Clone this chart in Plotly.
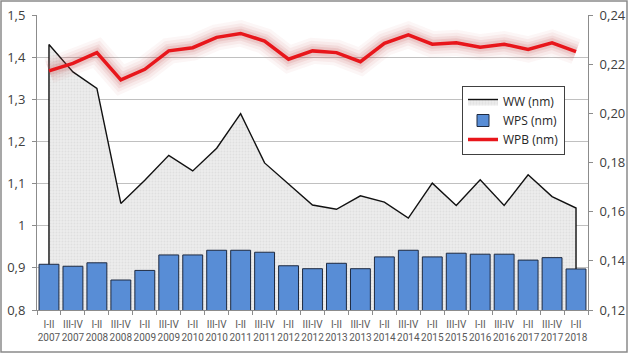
import plotly.graph_objects as go

periods = ["I-II", "III-IV"] * 11 + ["I-II"]
years = [str(2007 + i // 2) for i in range(23)]
categories = [f"{p}<br>{y}" for p, y in zip(periods, years)]

ww = [1.430, 1.365, 1.326, 1.053, 1.108, 1.167, 1.130, 1.184, 1.266, 1.149,
      1.099, 1.049, 1.039, 1.071, 1.056, 1.018, 1.101, 1.048, 1.109, 1.048,
      1.121, 1.069, 1.042]
wps = [0.1386, 0.1378, 0.1392, 0.1322, 0.1361, 0.1424, 0.1424, 0.1443, 0.1443, 0.1435,
       0.1380, 0.1368, 0.1390, 0.1368, 0.1416, 0.1443, 0.1416, 0.1431, 0.1427, 0.1427,
       0.1403, 0.1413, 0.1367]
wpb = [0.2173, 0.2203, 0.2247, 0.2136, 0.2179, 0.2254, 0.2267, 0.2309, 0.2325, 0.2294,
       0.2220, 0.2254, 0.2247, 0.2210, 0.2285, 0.2319, 0.2281, 0.2287, 0.2269, 0.2281,
       0.2260, 0.2287, 0.2251]

left_ticks = [0.8, 0.9, 1.0, 1.1, 1.2, 1.3, 1.4, 1.5]
left_labels = ["0,8", "0,9", "1", "1,1", "1,2", "1,3", "1,4", "1,5"]
right_ticks = [0.12, 0.14, 0.16, 0.18, 0.20, 0.22, 0.24]
right_labels = ["0,12", "0,14", "0,16", "0,18", "0,20", "0,22", "0,24"]

Y_MIN, Y_MAX = left_ticks[0], left_ticks[-1]
Y2_MIN, Y2_MAX = right_ticks[0], right_ticks[-1]

FONT = "Open Sans"
XFONT = "Roboto"
TXT = "#404040"
GRID = "#c0c0c0"
AXL = "#8c8c8c"

fig = go.Figure()

# WW area (left axis), closed down to the axis minimum at both ends
x_poly = [categories[0]] + categories + [categories[-1]]
y_poly = [Y_MIN] + ww + [Y_MIN]
fig.add_trace(go.Scatter(
    x=x_poly, y=y_poly, name="WW (nm)", mode="lines", fill="toself",
    fillcolor="#e8e8e8",
    fillpattern=dict(shape=".", fgcolor="#d2d2d2", bgcolor="#ececec", size=3, solidity=0.3),
    line=dict(color="#111111", width=1.4),
    yaxis="y",
))

# WPS bars (right axis)
fig.add_trace(go.Bar(
    x=categories, y=wps, name="WPS (nm)", yaxis="y2",
    marker=dict(color="#588DD6", line=dict(color="#1e2a40", width=1)),
))

# soft glow around WPB
for w, a in [(26, 0.05), (20, 0.07), (14, 0.10), (9, 0.14)]:
    fig.add_trace(go.Scatter(
        x=categories, y=wpb, mode="lines", yaxis="y2", showlegend=False,
        hoverinfo="skip", line=dict(color=f"rgba(200,80,80,{a})", width=w),
    ))

fig.add_trace(go.Scatter(
    x=categories, y=wpb, name="WPB (nm)", mode="lines", yaxis="y2",
    line=dict(color="#e8161b", width=3.5),
))

L, R, T, B = 37, 41, 15, 44
W, H = 629, 354
pw, ph = W - L - R, H - T - B

fig.update_layout(
    width=W, height=H,
    margin=dict(l=L, r=R, t=T, b=B, autoexpand=False),
    paper_bgcolor="white", plot_bgcolor="white",
    font=dict(family=FONT, color=TXT, size=12),
    bargap=0.17,
    showlegend=True,
    legend=dict(
        x=(462 - L) / pw, y=(H - B - 86) / ph, xanchor="left", yanchor="top",
        bgcolor="white", bordercolor="#404040", borderwidth=1,
        font=dict(family=FONT, size=12, color="#262626"),
        tracegroupgap=0, itemwidth=30,
    ),
    xaxis=dict(
        type="category", categoryorder="array", categoryarray=categories,
        range=[-0.5, len(categories) - 0.5], automargin=False,
        tickson="boundaries", ticks="outside", ticklen=4, tickcolor=AXL,
        showline=True, linecolor=AXL, linewidth=1, showgrid=False,
        tickfont=dict(family=XFONT, size=10, color="#595959"),
        tickangle=0, ticklabelstandoff=5,
    ),
    yaxis=dict(
        range=[Y_MIN, Y_MAX], tickvals=left_ticks, ticktext=left_labels,
        showgrid=True, gridcolor=GRID, gridwidth=1, zeroline=False,
        showline=True, linecolor=AXL, linewidth=1, automargin=False,
        ticks="outside", ticklen=4, tickcolor=AXL,
        tickfont=dict(family=FONT, size=13, color=TXT), ticklabelstandoff=4,
    ),
    yaxis2=dict(
        range=[Y2_MIN, Y2_MAX], tickvals=right_ticks, ticktext=right_labels,
        overlaying="y", side="right", showgrid=False, zeroline=False,
        showline=True, linecolor=AXL, linewidth=1, automargin=False,
        ticks="outside", ticklen=4, tickcolor=AXL,
        tickfont=dict(family=FONT, size=13, color=TXT), ticklabelstandoff=4,
    ),
    shapes=[dict(
        type="rect", xref="paper", yref="paper",
        x0=(1 - L) / pw, x1=(W - 2 - L) / pw,
        y0=(H - B - (H - 2)) / ph, y1=(H - B - 1) / ph,
        line=dict(color="#8a8a8a", width=1.5), layer="below",
    )],
)

fig.write_html("out.html")
